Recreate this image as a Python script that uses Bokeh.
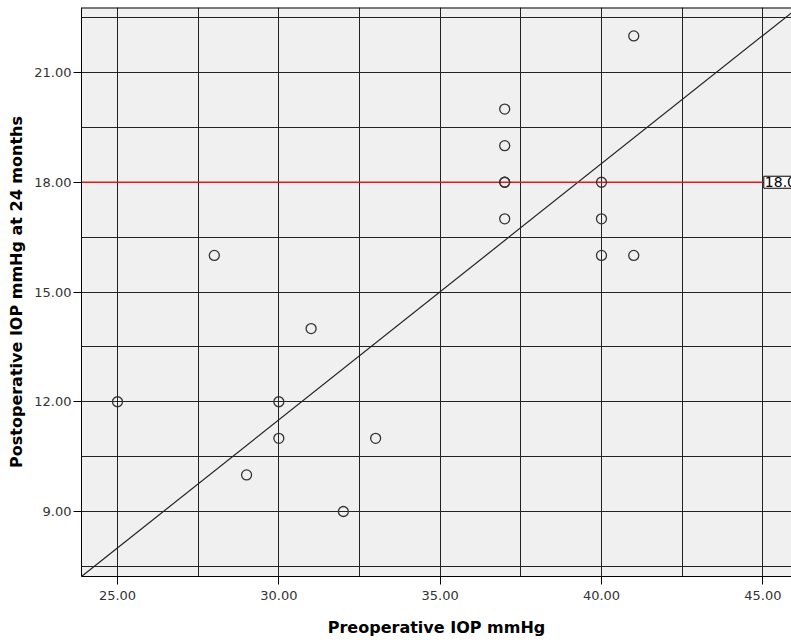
from bokeh.plotting import figure
from bokeh.models import (Range1d, FixedTicker, NumeralTickFormatter, Span, Label,
                          ColumnDataSource)
from bokeh.embed import file_html
from bokeh.resources import INLINE

# Data
preop = [25, 28, 29, 30, 30, 31, 32, 33, 37, 37, 37, 37, 37, 40, 40, 40, 41, 41]
postop = [12, 16, 10, 12, 11, 14, 9, 11, 20, 19, 18, 18, 17, 18, 17, 16, 22, 16]

x_major = [25, 30, 35, 40, 45]
x_minor = [27.5, 32.5, 37.5, 42.5]
y_major = [9, 12, 15, 18, 21]
y_minor = [7.5, 10.5, 13.5, 16.5, 19.5, 22.5]

x_lo, x_hi = 23.884, 45.889
y_lo, y_hi = 7.224, 22.776
diag_x = [23.884, 46.1]
diag_y = [7.224, 22.78]
ref_value = 18.0
ref_end_x = 45.0

FONT = "DejaVu Sans"

p = figure(width=791, height=642, output_backend="svg", toolbar_location=None,
           x_range=Range1d(x_lo, x_hi), y_range=Range1d(y_lo, y_hi),
           min_border_left=81, min_border_right=0, min_border_top=7,
           min_border_bottom=66)
p.background_fill_color = "#f0f0f0"
p.border_fill_color = "white"
p.outline_line_color = None

for ax, maj, mn in ((p.xaxis[0], x_major, x_minor), (p.yaxis[0], y_major, y_minor)):
    ax.ticker = FixedTicker(ticks=maj, minor_ticks=mn)
    ax.formatter = NumeralTickFormatter(format="0.00")
    ax.major_tick_in = 0
    ax.major_tick_out = 8
    ax.minor_tick_line_color = None
    ax.major_tick_line_color = "black"
    ax.axis_line_color = "black"
    ax.major_label_text_font = FONT
    ax.major_label_text_font_size = "13px"
    ax.major_label_text_color = "#333333"
    ax.axis_label_text_font = FONT
    ax.axis_label_text_font_size = "16px"
    ax.axis_label_text_font_style = "bold"
    ax.axis_label_text_color = "black"

p.xaxis.axis_label = "Preoperative IOP mmHg"
p.yaxis.axis_label = "Postoperative IOP mmHg at 24 months"
p.xaxis.major_label_standoff = 6
p.xaxis.axis_label_standoff = 15
p.yaxis.major_label_standoff = 2
p.yaxis.axis_label_standoff = 5

for g in (p.xgrid[0], p.ygrid[0]):
    g.grid_line_color = "#222222"
    g.grid_line_width = 1
    g.minor_grid_line_color = "#222222"
    g.minor_grid_line_width = 1

p.add_layout(Span(location=y_hi, dimension="width", line_color="black", line_width=2))

# diagonal reference line
p.line(diag_x, diag_y, line_color="#222222", line_width=1.2)

# red reference line at 18
p.segment(x0=[x_lo], y0=[ref_value], x1=[ref_end_x], y1=[ref_value],
          line_color="#e31a1c", line_width=1.5)

src = ColumnDataSource(dict(x=preop, y=postop))
p.scatter("x", "y", source=src, marker="circle", size=10, fill_color=None,
          line_color="#333333", line_width=1.3)

p.add_layout(Label(x=ref_end_x, y=ref_value, text="18.00", x_offset=1,
                   text_baseline="middle", text_align="left",
                   text_font=FONT, text_font_size="14px", text_color="black",
                   background_fill_color="white", border_line_color="black",
                   border_line_width=1, padding=1))

open("out.html", "w").write(file_html(p, INLINE))
